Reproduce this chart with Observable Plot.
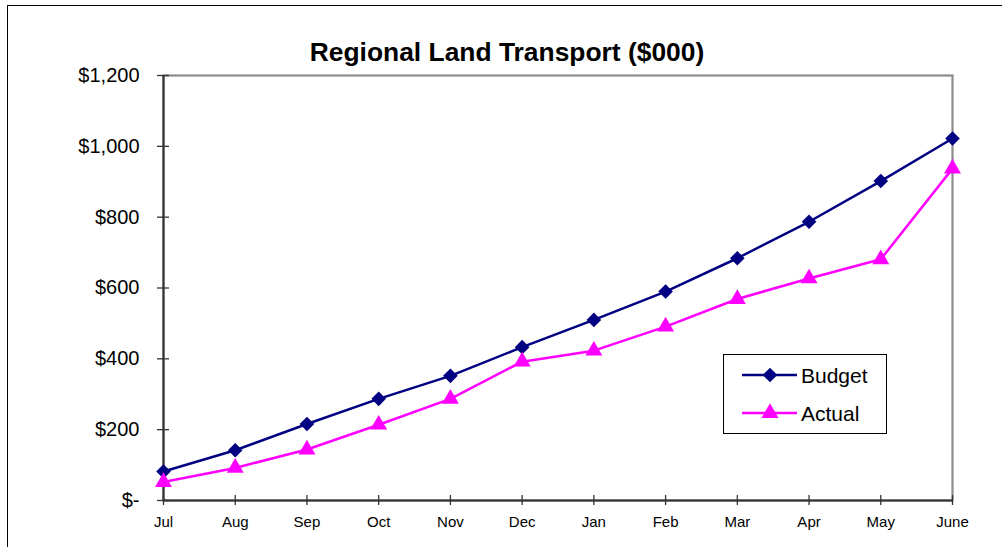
<!DOCTYPE html>
<html><head><meta charset="utf-8">
<script src="https://cdn.jsdelivr.net/npm/d3@7"></script>
<script src="https://cdn.jsdelivr.net/npm/@observablehq/plot@0.6"></script>
<style>
body{margin:0;background:#fff;font-family:Arial,"Liberation Sans",sans-serif}
#wrap{position:relative;width:1002px;height:547px;overflow:hidden;background:#fff}
#border{position:absolute;left:7px;top:5px;width:1100px;height:700px;border:1.5px solid #000;box-sizing:border-box}
#title{position:absolute;left:0;width:1014px;top:37px;line-height:30px;text-align:center;font-weight:bold;font-size:26.4px;color:#000}
#chart{position:absolute;left:0;top:0}
#legend{position:absolute;left:723px;top:354px;width:164px;height:80px;border:1.5px solid #000;box-sizing:border-box;background:#fff}
#legend svg{display:block}
</style>
</head><body>
<div id="wrap">
  <div id="border"></div>
  <div id="chart"></div>
  <div id="title">Regional Land Transport ($000)</div>
  <div id="legend"></div>
</div>
<script>
const titleText = "Regional Land Transport ($000)";
const months = ["Jul","Aug","Sep","Oct","Nov","Dec","Jan","Feb","Mar","Apr","May","June"];
const budget = [82,142,216,287,352,433,510,590,684,787,902,1022];
const actual = [52,92,144,214,287,392,423,491,569,627,681,937];
const yTicks = [0,200,400,600,800,1000,1200];
const seriesNames = ["Budget","Actual"];
const seriesColors = ["#000080","#FF00FF"];
const seriesSymbols = ["diamond2","triangle"];

const budgetRows = months.map((m,i)=>({month:m, series:seriesNames[0], value:budget[i]}));
const actualRows = months.map((m,i)=>({month:m, series:seriesNames[1], value:actual[i]}));

const fmt = d => d === 0 ? "$-" : "$" + d3.format(",")(d);

const chart = Plot.plot({
  width:1002, height:547,
  marginLeft:163, marginRight:50, marginTop:75, marginBottom:47,
  style:{fontFamily:'Arial,"Liberation Sans",sans-serif', background:"transparent", color:"#000", overflow:"visible"},
  x:{type:"point", domain:months, padding:0, round:false, label:null},
  y:{domain:[0,1200], label:null},
  marks:[
    Plot.frame({stroke:"#8c8c8c", strokeWidth:2.2}),
    Plot.ruleX([months[0]], {stroke:"#333", strokeWidth:2}),
    Plot.ruleY([0], {stroke:"#333", strokeWidth:2}),
    Plot.axisY(yTicks, {tickSize:12, dx:6, tickFormat:()=>"", stroke:"#333", strokeWidth:1.3}),
    Plot.axisY(yTicks, {tickSize:0, tickPadding:24, tickFormat:fmt, fontSize:20, fill:"#000"}),
    Plot.axisX(months, {tickSize:10, dy:-5, tickFormat:()=>"", stroke:"#333", strokeWidth:1.3}),
    Plot.axisX(months, {tickSize:0, tickPadding:16, fontSize:15, fill:"#000"}),
    Plot.line(budgetRows, {x:"month", y:"value", stroke:seriesColors[0], strokeWidth:2.5}),
    Plot.dot(budgetRows, {x:"month", y:"value", fill:seriesColors[0], symbol:seriesSymbols[0], r:6.6, stroke:"none"}),
    Plot.line(actualRows, {x:"month", y:"value", stroke:seriesColors[1], strokeWidth:2.5}),
    Plot.dot(actualRows, {x:"month", y:"value", fill:seriesColors[1], symbol:seriesSymbols[1], r:6.3, stroke:"none"})
  ]
});
document.getElementById("chart").appendChild(chart);
document.getElementById("title").textContent = titleText;

// legend
const lw = 161, lh = 77;
const svg = d3.select("#legend").append("svg").attr("width", lw).attr("height", lh);
const symMap = {diamond2:d3.symbolDiamond2, triangle:d3.symbolTriangle};
const rowsY = [20, 58];
const rVals = [6.6, 6.3];
seriesNames.forEach((name,i)=>{
  const g = svg.append("g").attr("transform", `translate(0,${rowsY[i]})`);
  g.append("line").attr("x1",18).attr("x2",73).attr("y1",0).attr("y2",0)
    .attr("stroke",seriesColors[i]).attr("stroke-width",2.5);
  g.append("path").attr("transform","translate(46,0)")
    .attr("d", d3.symbol(symMap[seriesSymbols[i]], Math.PI*rVals[i]*rVals[i])())
    .attr("fill", seriesColors[i]);
  g.append("text").attr("x",77).attr("y",0).attr("dy","0.36em")
    .attr("font-size",21).attr("font-family",'Arial,"Liberation Sans",sans-serif')
    .attr("fill","#000").text(name);
});
</script>
</body></html>
